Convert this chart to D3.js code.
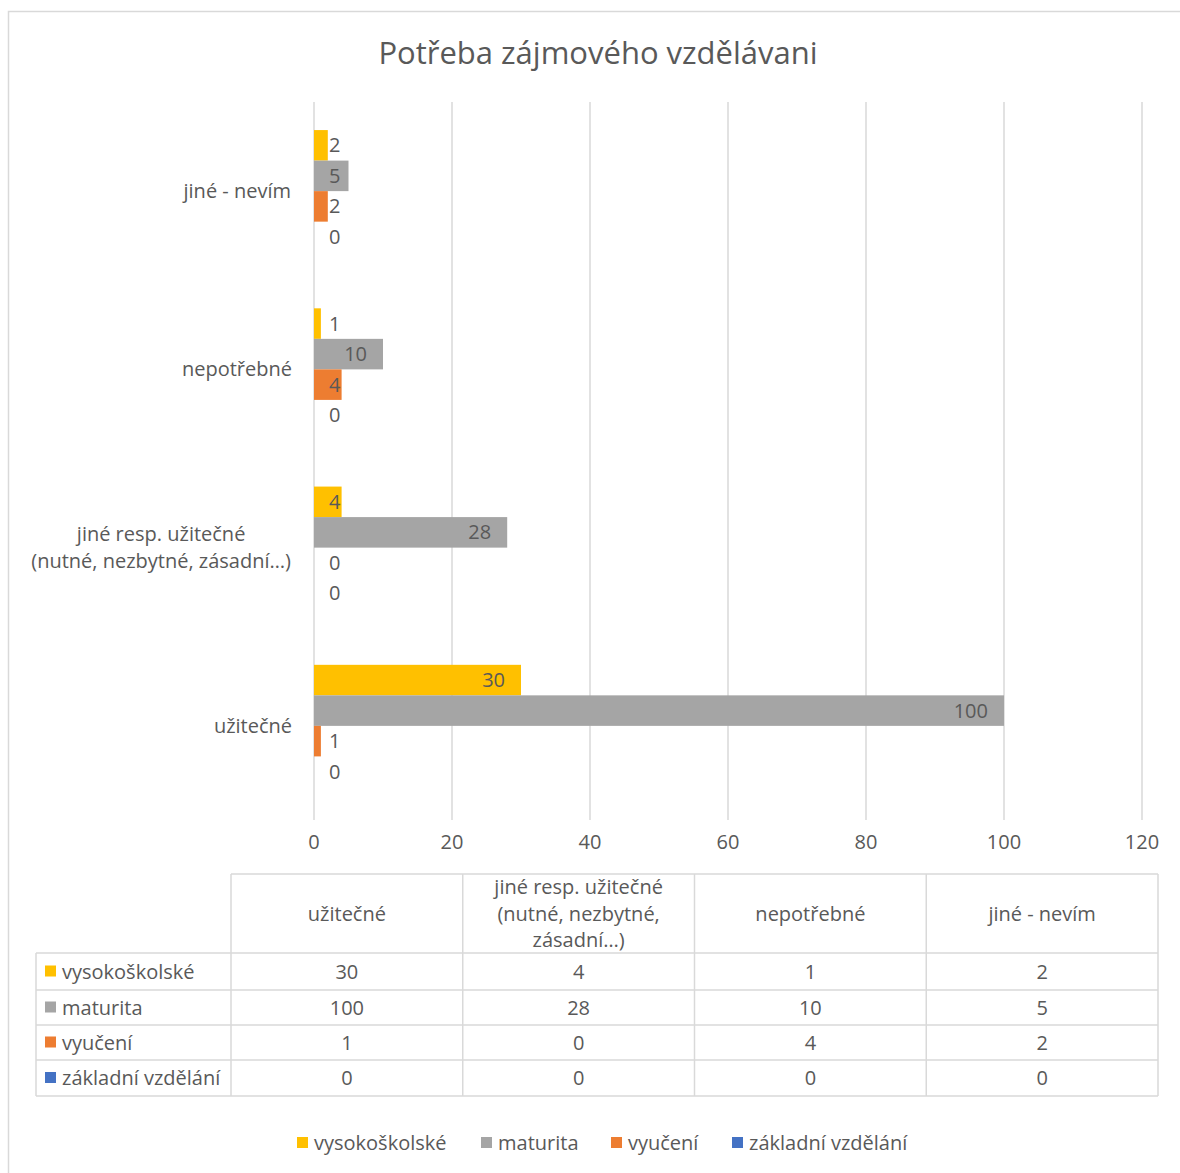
<!DOCTYPE html>
<html>
<head>
<meta charset="utf-8">
<script src="https://cdn.jsdelivr.net/npm/d3@7"></script>
<style>
  body { margin: 0; background: #fff; }
  text { font-family: "Open Sans", sans-serif; fill: #595959; }
</style>
</head>
<body>
<svg id="chart"></svg>
<script>
// Chart data
const categories = ["užitečné", "jiné resp. užitečné (nutné, nezbytné, zásadní…)", "nepotřebné", "jiné - nevím"];
const axisLabelLines = [["užitečné"], ["jiné resp. užitečné", "(nutné, nezbytné, zásadní…)"], ["nepotřebné"], ["jiné - nevím"]];
const tableHeaderLines = [["užitečné"], ["jiné resp. užitečné", "(nutné, nezbytné,", "zásadní…)"], ["nepotřebné"], ["jiné - nevím"]];
const seriesNames = ["vysokoškolské", "maturita", "vyučení", "základní vzdělání"];
const vysokoskolske = [30, 4, 1, 2];
const maturita = [100, 28, 10, 5];
const vyuceni = [1, 0, 4, 2];
const zakladni = [0, 0, 0, 0];
const xTicks = [0, 20, 40, 60, 80, 100, 120];
const colors = ["#FFC000", "#A5A5A5", "#ED7D31", "#4472C4"];

const seriesValues = [vysokoskolske, maturita, vyuceni, zakladni];

const width = 1180;
const height = 1173;
const fs = "20px";

const svg = d3.select("#chart")
	.attr("width", width)
	.attr("height", height);

// Outer frame
svg.append("rect")
	.attr("x", 8.5).attr("y", 11.5)
	.attr("width", 1200).attr("height", 1200)
	.attr("fill", "none")
	.attr("stroke", "#d9d9d9")
	.attr("stroke-width", 1.5);

// Title
svg.append("text")
	.attr("x", 598).attr("y", 64)
	.attr("text-anchor", "middle")
	.style("font-size", "31px")
	.text("Potřeba zájmového vzdělávani");

// Scales
const x = d3.scaleLinear().domain([0, 120]).range([314, 1142]);

// top to bottom: last category first
const y = d3.scaleBand()
	.domain(categories.slice().reverse())
	.range([102, 815])
	.paddingInner(0.315)
	.paddingOuter(0.1575);

const ySeries = d3.scaleBand()
	.domain(seriesNames)
	.range([0, y.bandwidth()]);

// Gridlines
svg.append("g")
	.selectAll("line")
	.data(xTicks)
	.join("line")
	.attr("x1", d => x(d)).attr("x2", d => x(d))
	.attr("y1", 102).attr("y2", 820)
	.attr("stroke", "#d9d9d9")
	.attr("stroke-width", 1.5);

// X tick labels
svg.append("g")
	.selectAll("text")
	.data(xTicks)
	.join("text")
	.attr("x", d => x(d))
	.attr("y", 849)
	.attr("text-anchor", "middle")
	.style("font-size", fs)
	.text(d => d);

// Category labels
categories.forEach((c, i) => {
	const lines = axisLabelLines[i];
	const cy = y(c) + y.bandwidth() / 2;
	const lh = 27;
	const t = svg.append("text")
		.style("font-size", fs);
	lines.forEach((ln, j) => {
		t.append("tspan")
			.attr("x", 0)
			.attr("y", cy + (j - (lines.length - 1) / 2) * lh + 7)
			.text(ln);
	});
	// right-align block at 292, center lines inside block
	const bw = t.node().getBBox().width;
	t.attr("text-anchor", "middle");
	t.selectAll("tspan").attr("x", 292 - bw / 2);
});

// Bars
seriesNames.forEach((s, si) => {
	const g = svg.append("g");
	const vals = seriesValues[si];
	g.selectAll("rect")
		.data(categories)
		.join("rect")
		.attr("x", x(0))
		.attr("y", (c) => y(c) + ySeries(s))
		.attr("width", (c, i) => x(vals[i]) - x(0))
		.attr("height", ySeries.bandwidth())
		.attr("fill", colors[si]);

	g.selectAll("text")
		.data(categories)
		.join("text")
		.style("font-size", fs)
		.attr("y", c => y(c) + ySeries(s) + ySeries.bandwidth() / 2 + 7)
		.text((c, i) => vals[i])
		.each(function(c, i) {
			const w = this.getComputedTextLength();
			const right = Math.max(x(vals[i]) - 16, x(0) + 15 + w);
			d3.select(this).attr("x", right).attr("text-anchor", "end");
		});
});

// Data table
const colX = d3.scaleBand().domain(categories).range([231, 1158]);
const rowY = [953, 990, 1025, 1060, 1096];
const headTop = 874;
const tbl = svg.append("g");
const lineColor = "#d9d9d9";

// horizontal lines
tbl.append("line").attr("x1", 231).attr("x2", 1158).attr("y1", headTop).attr("y2", headTop)
	.attr("stroke", lineColor).attr("stroke-width", 1.5);
rowY.forEach(ry => {
	tbl.append("line").attr("x1", 36).attr("x2", 1158).attr("y1", ry).attr("y2", ry)
		.attr("stroke", lineColor).attr("stroke-width", 1.5);
});
// vertical lines
tbl.append("line").attr("x1", 36).attr("x2", 36).attr("y1", rowY[0]).attr("y2", rowY[4])
	.attr("stroke", lineColor).attr("stroke-width", 1.5);
categories.concat([null]).forEach((c, i) => {
	const vx = c ? colX(c) : colX.range()[1];
	tbl.append("line").attr("x1", vx).attr("x2", vx).attr("y1", headTop).attr("y2", rowY[4])
		.attr("stroke", lineColor).attr("stroke-width", 1.5);
});

// header text
categories.forEach((c, i) => {
	const lines = tableHeaderLines[i];
	const cx = colX(c) + colX.bandwidth() / 2;
	const cy = (headTop + rowY[0]) / 2;
	const lh = 26.5;
	const t = tbl.append("text").attr("text-anchor", "middle").style("font-size", fs);
	lines.forEach((ln, j) => {
		t.append("tspan")
			.attr("x", cx)
			.attr("y", cy + (j - (lines.length - 1) / 2) * lh + 7)
			.text(ln);
	});
});

// series rows
seriesNames.forEach((s, si) => {
	const cy = (rowY[si] + rowY[si + 1]) / 2;
	tbl.append("rect")
		.attr("x", 45).attr("y", cy - 6)
		.attr("width", 11).attr("height", 11)
		.attr("fill", colors[si]);
	tbl.append("text")
		.attr("x", 62).attr("y", cy + 7)
		.style("font-size", fs)
		.text(s);
	categories.forEach((c, i) => {
		tbl.append("text")
			.attr("x", colX(c) + colX.bandwidth() / 2)
			.attr("y", cy + 7)
			.attr("text-anchor", "middle")
			.style("font-size", fs)
			.text(seriesValues[si][i]);
	});
});

// Legend
const legendX = [297, 481, 611, 732];
const legend = svg.append("g");
seriesNames.forEach((s, si) => {
	legend.append("rect")
		.attr("x", legendX[si]).attr("y", 1137)
		.attr("width", 11).attr("height", 11)
		.attr("fill", colors[si]);
	legend.append("text")
		.attr("x", legendX[si] + 17).attr("y", 1150)
		.style("font-size", fs)
		.text(s);
});
</script>
</body>
</html>
